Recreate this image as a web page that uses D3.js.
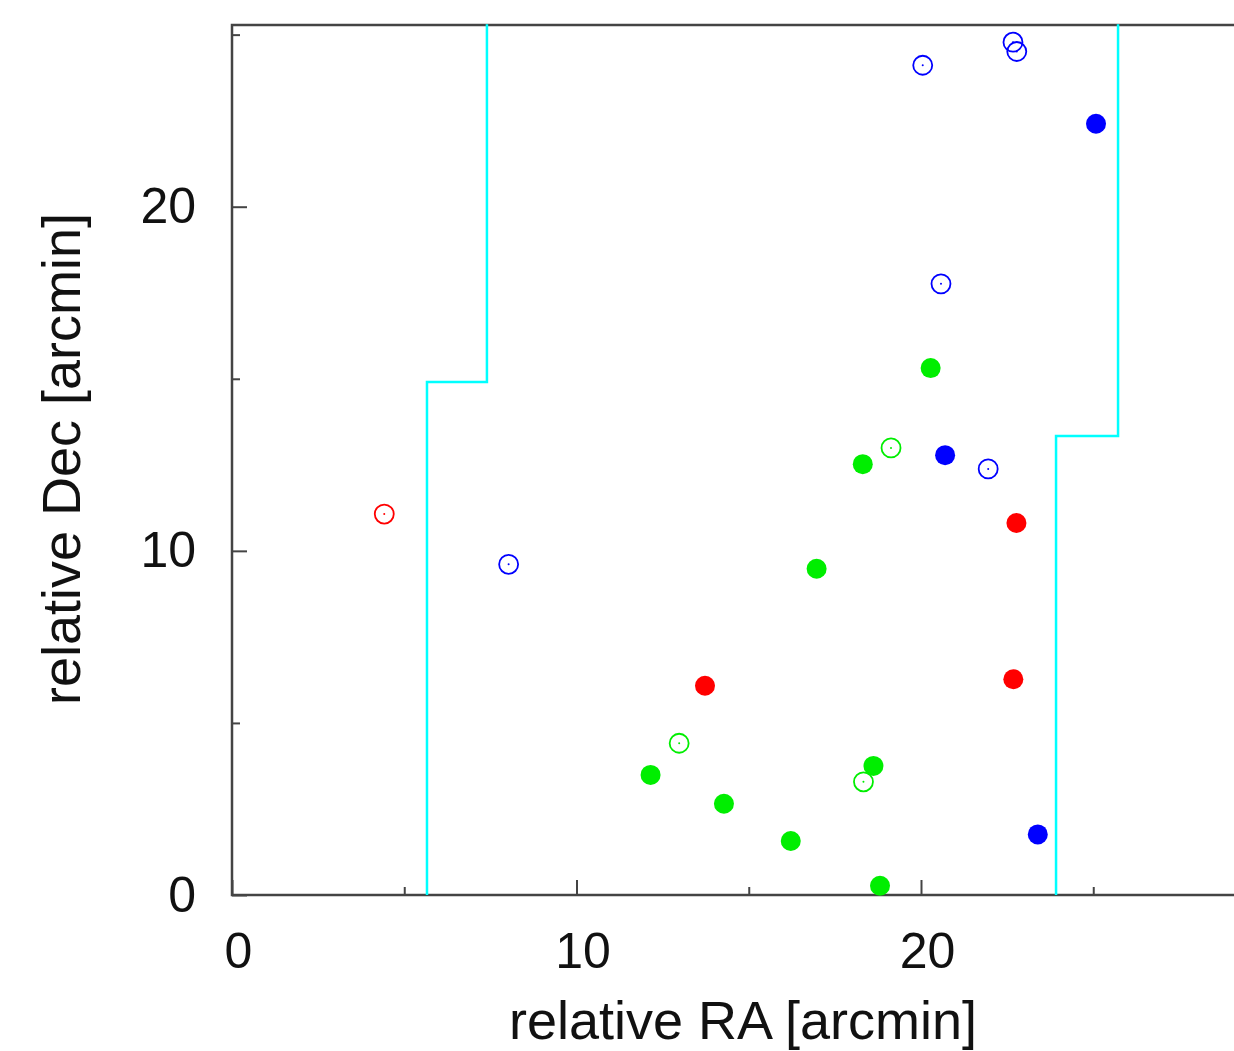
<!DOCTYPE html>
<html lang="en">
<head>
    <meta charset="UTF-8">
    <title>relative RA / Dec</title>
    <script src="https://d3js.org/d3.v7.min.js"></script>
    <style>
        body { margin: 0; background: #fff; }
        svg { display: block; }
        .tick text { font-family: "Liberation Sans", Arial, sans-serif; font-size: 50px; fill: #111; }
        .tick line { stroke: #444; stroke-width: 2px; }
        .label { font-family: "Liberation Sans", Arial, sans-serif; font-size: 54px; fill: #111; }
        .frame { fill: none; stroke: #444; stroke-width: 2.5px; }
        .field { fill: none; stroke: #00ffff; stroke-width: 2.5px; }
    </style>
</head>
<body>
<svg width="1234" height="1051"></svg>
<script>
    // x = relative RA, y = relative Dec (arcmin)
    const blueOpenX   = [20.05, 22.67, 22.78, 20.58, 21.95, 8.03];
    const blueOpenY   = [24.11, 24.78, 24.51, 17.76, 12.38, 9.61];
    const blueFillX   = [25.08, 20.70, 23.39];
    const blueFillY   = [22.41, 12.78, 1.76];
    const redOpenX    = [4.42];
    const redOpenY    = [11.07];
    const redFillX    = [22.77, 22.68, 13.73];
    const redFillY    = [10.81, 6.27, 6.08];
    const greenOpenX  = [19.13, 12.98, 18.33];
    const greenOpenY  = [12.99, 4.41, 3.29];
    const greenFillX  = [20.28, 18.31, 16.97, 12.15, 14.28, 16.22, 18.62, 18.81];
    const greenFillY  = [15.31, 12.52, 9.48, 3.49, 2.65, 1.57, 3.75, 0.27];

    // field boundary (step lines)
    const leftEdgeX  = [5.66, 5.66, 7.40, 7.40];
    const leftEdgeY  = [0, 14.91, 14.91, 25.3];
    const rightEdgeX = [23.92, 23.92, 25.72, 25.72];
    const rightEdgeY = [0, 13.34, 13.34, 25.3];

    const majorTicks = [0, 10, 20];
    const minorTicks = [5, 15, 25];

    const svg = d3.select("svg");
    const x = d3.scaleLinear().domain([0, 29.2]).range([232, 232 + 34.45 * 29.2]);
    const y = d3.scaleLinear().domain([0, 25.28]).range([895, 25]);

    // frame (right side falls outside the picture)
    svg.append("rect")
        .attr("class", "frame")
        .attr("x", x(0)).attr("y", y(25.28))
        .attr("width", x(29.2) - x(0) + 10)
        .attr("height", y(0) - y(25.28));

    // x axis, ticks pointing inward
    const gx = svg.append("g").attr("transform", `translate(0,${y(0)})`);
    gx.call(d3.axisBottom(x).tickValues(majorTicks).tickSizeInner(-15).tickSizeOuter(0).tickPadding(37));
    gx.append("g").call(d3.axisBottom(x).tickValues(minorTicks).tickSizeInner(-8).tickSizeOuter(0).tickFormat(""));
    gx.selectAll(".domain").remove();
    gx.selectAll(".tick text").attr("dx", 6);

    // y axis
    const gy = svg.append("g").attr("transform", `translate(${x(0)},0)`);
    gy.call(d3.axisLeft(y).tickValues(majorTicks).tickSizeInner(-15).tickSizeOuter(0).tickPadding(36));
    gy.append("g").call(d3.axisLeft(y).tickValues(minorTicks).tickSizeInner(-8).tickSizeOuter(0).tickFormat(""));
    gy.selectAll(".domain").remove();

    // axis titles
    svg.append("text").attr("class", "label")
        .attr("x", 743).attr("y", 1039)
        .attr("text-anchor", "middle")
        .text("relative RA [arcmin]");
    svg.append("text").attr("class", "label")
        .attr("transform", "translate(80,459) rotate(-90)")
        .attr("text-anchor", "middle")
        .text("relative Dec [arcmin]");

    // field boundary lines
    const line = d3.line().x(d => x(d[0])).y(d => y(d[1]));
    svg.append("path").attr("class", "field").attr("d", line(d3.zip(leftEdgeX, leftEdgeY)));
    svg.append("path").attr("class", "field").attr("d", line(d3.zip(rightEdgeX, rightEdgeY)));

    // sources
    function filled(xs, ys, color) {
        svg.append("g").selectAll("circle")
            .data(d3.zip(xs, ys))
            .enter().append("circle")
            .attr("cx", d => x(d[0])).attr("cy", d => y(d[1]))
            .attr("r", 10)
            .attr("fill", color);
    }
    function open(xs, ys, color) {
        const g = svg.append("g").selectAll("g")
            .data(d3.zip(xs, ys))
            .enter().append("g")
            .attr("transform", d => `translate(${x(d[0])},${y(d[1])})`);
        g.append("circle").attr("r", 9.5).attr("fill", "none").attr("stroke", color).attr("stroke-width", 1.8);
        g.append("circle").attr("r", 1).attr("fill", color);
    }

    open(blueOpenX, blueOpenY, "#0000ff");
    filled(blueFillX, blueFillY, "#0000ff");
    open(redOpenX, redOpenY, "#ff0000");
    filled(redFillX, redFillY, "#ff0000");
    filled(greenFillX, greenFillY, "#00ee00");
    open(greenOpenX, greenOpenY, "#00ee00");
</script>
</body>
</html>
